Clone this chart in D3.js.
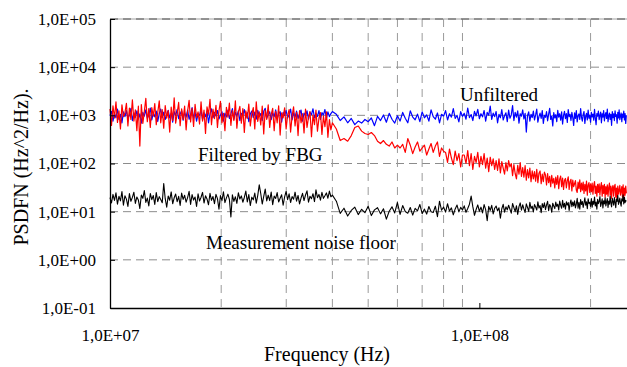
<!DOCTYPE html>
<html>
<head>
<meta charset="utf-8">
<script src="https://cdn.jsdelivr.net/npm/d3@7"></script>
<style>
  body { margin: 0; background: #fff; }
  svg text { font-family: "Liberation Serif", "Times New Roman", serif; fill: #000; }
</style>
</head>
<body>
<div id="chart"></div>
<script>
// sweep 1: 10-40 MHz (log spaced), sweep 2: 41-250 MHz, 1 MHz step
const freqA = d3.range(150).map(i => 1e7 * Math.pow(4, i / 149));
const freqB = d3.range(41, 251).map(m => m * 1e6);

const unfilteredA = [
  980, 1210, 760, 1100, 890, 1340, 820, 1050, 700, 1180,
  940, 1260, 860, 1020, 1390, 780, 1120, 910, 1240, 840,
  1070, 690, 1150, 960, 1300, 870, 1010, 1420, 800, 1130,
  930, 1220, 750, 1080, 1350, 900, 1160, 820, 1040, 1270,
  880, 1110, 720, 1190, 990, 1330, 850, 1060, 1240, 790,
  1140, 920, 1280, 830, 1050, 1450, 870, 1170, 760, 1090,
  1000, 1310, 810, 1130, 940, 1230, 700, 1080, 1360, 890,
  1150, 970, 1260, 840, 1020, 1190, 760, 1110, 930, 1290,
  860, 1070, 1380, 820, 1160, 950, 1240, 780, 1100, 1010,
  1320, 880, 1140, 740, 1060, 1230, 900, 1170, 830, 1270,
  960, 1090, 780, 1210, 1400, 870, 1030, 1180, 810, 1120,
  940, 1300, 850, 1080, 1190, 720, 1150, 990, 1260, 880,
  1040, 1350, 800, 1130, 920, 1220, 860, 1070, 1290, 760,
  1110, 980, 1240, 830, 1160, 1030, 1370, 890, 1100, 950,
  1250, 820, 1140, 1010, 1320, 870, 1180, 940, 1090, 1200
];
const unfilteredB = [
  1050, 780, 930, 700, 860, 640, 760, 690, 820, 740,
  880, 610, 950, 780, 1020, 720, 1100, 830, 690, 980,
  760, 1150, 870, 700, 1240, 920, 810, 1060, 740, 1180,
  890, 1020, 760, 1300, 940, 830, 1120, 700, 1050, 960,
  1250, 800, 1080, 920, 1380, 860, 1000, 730, 1190, 950,
  1100, 830, 1420, 900, 1040, 780, 1210, 970, 1330, 850,
  1080, 930, 1260, 760, 1150, 1000, 1560, 820, 1110, 940,
  1200, 700, 1050, 890, 1320, 800, 980, 1130, 740, 1280,
  870, 1020, 1600, 780, 1150, 920, 1240, 690, 1080, 960,
  1300, 840, 1100, 450, 990, 1180, 760, 1050, 900, 1230,
  800, 1020, 1340, 720, 950, 1110, 860, 1260, 680, 1000,
  910, 1190, 770, 1060, 1400, 820, 970, 600, 1140, 880,
  1030, 740, 1270, 920, 1080, 790, 1180, 660, 1000, 1210,
  850, 1090, 710, 1320, 940, 1050, 780, 1160, 900, 620,
  1120, 860, 1250, 730, 990, 1070, 820, 1380, 910, 760,
  1040, 1200, 680, 950, 1100, 800, 1290, 870, 1010, 720,
  1150, 930, 1060, 790, 1330, 880, 640, 1090, 960, 1220,
  810, 1000, 1170, 700, 1080, 920, 1260, 770, 1020, 1140,
  860, 1350, 740, 980, 1110, 820, 1050, 620, 1190, 900,
  1070, 780, 1240, 950, 1030, 690, 1160, 880, 1300, 810,
  990, 1120, 740, 1060, 910, 1230, 800, 1090, 680, 1010
];

const filteredA = [
  1350, 620, 1580, 880, 1900, 710, 1240, 520, 1650, 940,
  1120, 1780, 600, 1420, 820, 2100, 760, 1300, 480, 1550,
  230, 1680, 680, 1200, 2250, 740, 1380, 560, 1450, 960,
  1750, 640, 1160, 2000, 700, 1320, 540, 1600, 870, 1250,
  450, 1480, 780, 2300, 690, 1100, 1850, 610, 1370, 820,
  1560, 500, 1220, 2050, 730, 1400, 590, 1700, 900, 1180,
  660, 1900, 760, 1280, 420, 1500, 1050, 2150, 640, 1340,
  850, 1620, 560, 1230, 1950, 700, 1100, 480, 1470, 920,
  1800, 620, 1260, 780, 2000, 540, 1150, 1530, 690, 1380,
  440, 1240, 860, 1720, 600, 1070, 1450, 520, 1900, 750,
  1180, 630, 1550, 410, 1290, 820, 1650, 560, 1040, 1400,
  480, 1210, 700, 1580, 390, 1120, 880, 1430, 520, 1000,
  1320, 450, 960, 1500, 600, 1150, 380, 1260, 700, 1080,
  430, 1350, 560, 920, 1200, 360, 1020, 640, 1280, 470,
  870, 1140, 400, 960, 580, 1180, 350, 820, 500, 700
];
const filteredB = [
  520, 300, 330, 290, 380, 560, 600, 470, 420, 400,
  440, 380, 290, 260, 300, 250, 230, 280, 210, 240,
  210, 250, 170, 330, 240, 160, 220, 280, 180, 210,
  240, 150, 200, 260, 170, 230, 280, 140, 210, 180,
  170, 105, 200, 130, 95, 180, 115, 160, 85, 150,
  150, 100, 185, 90, 160, 75, 140, 105, 170, 85,
  140, 95, 160, 80, 130, 68, 135, 90, 125, 75,
  115, 72, 125, 64, 110, 80, 60, 105, 70, 115,
  85, 100, 56, 95, 62, 48, 92, 60, 105, 54,
  82, 52, 90, 45, 75, 50, 80, 42, 70, 48,
  68, 43, 76, 40, 63, 70, 38, 60, 42, 66,
  58, 36, 62, 40, 54, 33, 57, 39, 49, 31,
  52, 37, 56, 30, 47, 55, 33, 50, 29, 45,
  49, 31, 44, 53, 29, 42, 47, 27, 45, 33,
  38, 44, 28, 25, 41, 30, 46, 26, 39, 28,
  41, 24, 37, 27, 43, 22, 36, 40, 25, 38,
  26, 39, 23, 35, 42, 24, 34, 21, 37, 25,
  38, 22, 33, 40, 21, 35, 24, 37, 20, 33,
  23, 36, 21, 32, 39, 22, 34, 19, 31, 35,
  21, 33, 37, 20, 31, 18, 34, 23, 28, 35,
  22, 27, 33, 20, 36, 19, 31, 22, 34, 24
];

const noiseA = [
  19.5, 15.2, 22.8, 17.1, 24.6, 14.3, 20.9, 16.8, 26.1, 13.7,
  21.4, 18.2, 12.9, 23.7, 16.4, 19.8, 25.3, 14.8, 20.2, 17.5,
  11.6, 22.1, 18.9, 27.4, 15.6, 19.1, 13.2, 23.9, 17.8, 21.6,
  14.1, 24.8, 16.2, 20.5, 17.9, 15.3, 38.5, 18.6, 12.4, 21.1,
  17.3, 25.7, 14.6, 19.4, 23.2, 16.1, 20.8, 13.5, 24.3, 18.0,
  21.9, 15.8, 19.6, 26.5, 14.2, 22.7, 17.4, 20.1, 12.8, 23.5,
  16.6, 19.9, 25.1, 15.1, 21.3, 18.4, 13.9, 24.1, 17.2, 20.6,
  14.7, 22.9, 18.7, 11.2, 21.5, 16.9, 25.9, 15.4, 19.3, 23.1,
  17.9, 7.8, 22.3, 16.3, 20.4, 14.9, 24.7, 18.3, 21.2, 15.7,
  19.7, 26.8, 16.0, 22.6, 13.4, 20.0, 17.6, 24.4, 15.0, 21.8,
  36.0, 23.8, 14.4, 20.7, 29.5, 16.7, 22.0, 17.0, 25.6, 14.0,
  21.0, 18.8, 24.9, 15.9, 19.0, 22.5, 13.6, 20.3, 26.3, 17.7,
  23.4, 15.5, 20.6, 18.1, 25.4, 16.5, 21.7, 14.5, 19.2, 24.0,
  17.0, 22.2, 27.0, 15.7, 20.9, 18.6, 23.6, 16.2, 28.4, 19.5,
  22.8, 17.3, 25.2, 18.9, 21.4, 24.5, 19.0, 26.7, 20.4, 22.0
];
const noiseB = [
  16.5, 9.2, 11.8, 8.1, 10.6, 12.4, 8.7, 11.2, 9.5, 12.9,
  8.3, 10.9, 12.1, 9.0, 11.5, 7.0, 10.2, 12.6, 9.4, 15.5,
  8.8, 13.4, 10.1, 9.3, 12.2, 8.5, 11.7, 10.4, 14.1, 9.1,
  11.3, 8.9, 12.8, 10.0, 9.6, 13.0, 7.9, 16.5, 10.7, 12.5,
  9.8, 14.6, 10.3, 12.0, 8.6, 11.4, 13.7, 9.9, 12.3, 10.8,
  13.2, 9.7, 11.6, 14.3, 21.0, 12.7, 8.4, 11.1, 13.8, 10.2,
  12.4, 9.4, 14.0, 11.0, 6.5, 12.9, 10.6, 13.5, 9.0, 11.8,
  13.1, 10.4, 12.0, 7.3, 11.5, 14.2, 9.8, 12.6, 10.9, 13.6,
  11.2, 9.3, 14.8, 12.1, 10.0, 13.3, 8.8, 12.7, 15.2, 10.7,
  13.9, 11.4, 9.6, 14.5, 12.3, 10.1, 15.6, 11.7, 13.0, 9.9,
  14.1, 12.5, 10.8, 16.0, 11.9, 13.4, 9.5, 14.7, 12.2, 15.3,
  11.0, 13.8, 16.4, 10.5, 14.0, 12.8, 9.7, 15.0, 13.1, 11.6,
  15.8, 12.9, 14.3, 10.9, 16.6, 13.5, 11.8, 17.2, 12.4, 14.9,
  11.3, 16.1, 13.7, 15.4, 10.6, 14.6, 17.5, 12.7, 15.9, 13.2,
  16.8, 12.0, 14.4, 19.0, 11.8, 15.7, 11.2, 17.9, 14.1, 16.3,
  12.2, 15.2, 19.4, 13.6, 16.0, 11.5, 18.6, 14.8, 15.5, 12.9,
  18.8, 12.4, 16.5, 14.2, 20.0, 13.1, 15.8, 11.3, 18.1, 14.7,
  16.2, 20.5, 12.8, 15.1, 18.4, 11.9, 16.9, 14.5, 19.3, 13.2,
  15.9, 18.7, 12.3, 16.7, 14.3, 21.2, 15.0, 12.6, 18.9, 16.1,
  13.6, 19.6, 15.6, 12.1, 18.3, 16.4, 21.8, 14.2, 16.0, 19.1,
  15.2, 13.0, 18.5, 16.6, 22.5, 14.4, 19.8, 15.4, 17.0, 16.3
];

const yTicks = [1e-1, 1e0, 1e1, 1e2, 1e3, 1e4, 1e5];
const yTickLabels = ['1,0E-01', '1,0E+00', '1,0E+01', '1,0E+02', '1,0E+03', '1,0E+04', '1,0E+05'];
const xTicks = [1e7, 1e8];
const xTickLabels = ['1,0E+07', '1,0E+08'];
const xGrid = [2e7, 3e7, 4e7, 5e7, 6e7, 7e7, 8e7, 9e7, 2e8];
const yGrid = [1e0, 1e1, 1e2, 1e3, 1e4];

const width = 627, height = 367;
const margin = { top: 19, right: 0, bottom: 59, left: 110 };

const svg = d3.select('#chart').append('svg')
  .attr('width', width)
  .attr('height', height);

const x = d3.scaleLog()
  .domain([1e7, 2.51e8])
  .range([margin.left, width - margin.right]);

const y = d3.scaleLog()
  .domain([1e-1, 1e5])
  .range([height - margin.bottom, margin.top]);

// gridlines
svg.append('g').selectAll('line')
  .data(yGrid)
  .join('line')
  .attr('x1', margin.left).attr('x2', width)
  .attr('y1', d => y(d)).attr('y2', d => y(d))
  .attr('stroke', '#8c8c8c')
  .attr('stroke-dasharray', '8,5');

svg.append('g').selectAll('line')
  .data(xGrid)
  .join('line')
  .attr('x1', d => x(d)).attr('x2', d => x(d))
  .attr('y1', margin.top).attr('y2', height - margin.bottom)
  .attr('stroke', '#9a9a9a')
  .attr('stroke-dasharray', '8,6');

// top edge (1e5)
svg.append('line')
  .attr('x1', margin.left).attr('x2', width)
  .attr('y1', y(1e5)).attr('y2', y(1e5))
  .attr('stroke', '#a0a0a0');
svg.append('line')
  .attr('x1', margin.left).attr('x2', width)
  .attr('y1', y(1e5)).attr('y2', y(1e5))
  .attr('stroke', '#555')
  .attr('stroke-width', 1.2)
  .attr('stroke-dasharray', '8,5');

const line = d3.line()
  .x(d => x(d[0]))
  .y(d => y(d[1]));

const series = [
  { f: freqA.concat(freqB), v: unfilteredA.concat(unfilteredB), color: '#0000ff', w: 1.2 },
  { f: freqA.concat(freqB), v: filteredA.concat(filteredB), color: '#ff0000', w: 1.2 },
  { f: freqA.concat(freqB), v: noiseA.concat(noiseB), color: '#000000', w: 1.1 }
];

series.forEach(s => {
  svg.append('path')
    .datum(d3.zip(s.f, s.v))
    .attr('fill', 'none')
    .attr('stroke', s.color)
    .attr('stroke-width', s.w)
    .attr('stroke-linejoin', 'round')
    .attr('d', line);
});

// axes
const yAxis = d3.axisLeft(y)
  .tickValues(yTicks)
  .tickFormat((d, i) => yTickLabels[i])
  .tickSizeInner(-5)
  .tickSizeOuter(0)
  .tickPadding(14);

const gy = svg.append('g')
  .attr('transform', `translate(${margin.left},0)`)
  .call(yAxis);

const xAxis = d3.axisBottom(x)
  .tickValues(xTicks)
  .tickFormat((d, i) => xTickLabels[i])
  .tickSizeInner(-5)
  .tickSizeOuter(0)
  .tickPadding(21);

const gx = svg.append('g')
  .attr('transform', `translate(0,${height - margin.bottom})`)
  .call(xAxis);

[gx, gy].forEach(g => {
  g.select('.domain').attr('stroke', '#000').attr('stroke-width', 1.3);
  g.selectAll('.tick line').attr('stroke', '#000');
  g.selectAll('text')
    .style('font-family', '"Liberation Serif", "Times New Roman", serif')
    .style('font-size', '17px');
});

// axis titles
svg.append('text')
  .attr('x', 327)
  .attr('y', 361)
  .attr('text-anchor', 'middle')
  .style('font-size', '20px')
  .text('Frequency (Hz)');

svg.append('text')
  .attr('transform', 'translate(28,167) rotate(-90)')
  .attr('text-anchor', 'middle')
  .style('font-size', '20px')
  .text('PSDFN (Hz^2/Hz).');

// series annotations
svg.append('text')
  .attr('x', 460).attr('y', 101)
  .style('font-size', '19px')
  .text('Unfiltered');

svg.append('text')
  .attr('x', 198).attr('y', 161)
  .style('font-size', '19px')
  .text('Filtered by FBG');

svg.append('text')
  .attr('x', 206).attr('y', 249)
  .style('font-size', '19px')
  .text('Measurement noise floor');
</script>
</body>
</html>
